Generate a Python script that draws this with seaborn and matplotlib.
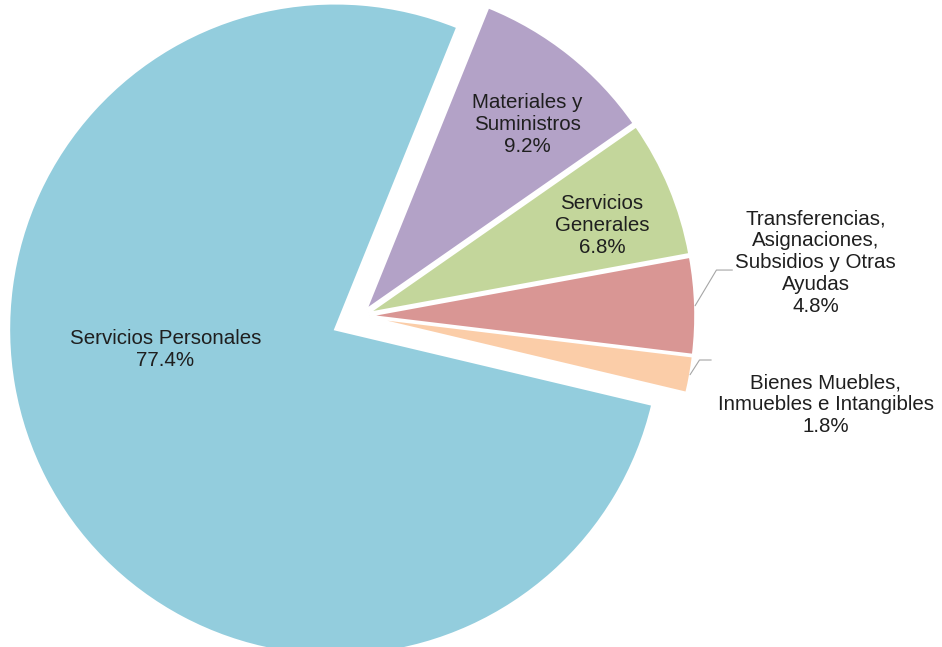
import numpy as np
import matplotlib
matplotlib.use("Agg")
import matplotlib.pyplot as plt
import seaborn as sns

# data (clockwise from the top)
categories = ["Materiales y\nSuministros", "Servicios\nGenerales",
              "Transferencias,\nAsignaciones,\nSubsidios y Otras\nAyudas",
              "Bienes Muebles,\nInmuebles e Intangibles", "Servicios Personales"]
shares = [9.2, 6.8, 4.8, 1.8, 77.4]
colors = ["#B3A2C7", "#C3D69B", "#D99694", "#FBCDA8", "#93CDDD"]

# layout
explode = [0.025, 0.025, 0.025, 0.025, 0.09]
label_pos = [(0.509, 0.589), (0.739, 0.279), (1.395, 0.163), (1.426, -0.273), (-0.601, -0.104)]
leader_elbow = {2: [(1.090, 0.141), (1.139, 0.141)], 3: [(1.038, -0.135), (1.074, -0.135)]}

sns.set_theme(style="white")
plt.rcParams["font.family"] = ["Liberation Sans", "DejaVu Sans"]

fig = plt.figure(figsize=(9.42, 6.47), dpi=100)
ax = fig.add_axes([0, 0, 1, 1])

wedges, _ = ax.pie(shares, colors=colors, startangle=68, counterclock=False,
                   explode=explode, radius=1,
                   wedgeprops=dict(edgecolor="white", linewidth=1.5))

for i, (name, val) in enumerate(zip(categories, shares)):
    x, y = label_pos[i]
    ax.text(x, y, f"{name}\n{val:.1f}%", ha="center", va="center",
            fontsize=14.8, color="#1f1f1f", linespacing=1.2)
    if i in leader_elbow:
        w = wedges[i]
        mid = np.deg2rad((w.theta1 + w.theta2) / 2)
        sx = w.center[0] + w.r * np.cos(mid)
        sy = w.center[1] + w.r * np.sin(mid)
        pts = [(sx, sy)] + leader_elbow[i]
        ax.plot([p[0] for p in pts], [p[1] for p in pts], color="#a6a6a6", lw=0.8)

ax.set_xlim(-1.108, 1.782)
ax.set_ylim(-1.015, 0.969)
ax.set_aspect("equal")
ax.axis("off")

fig.savefig("out.png", dpi=100, facecolor="white")
